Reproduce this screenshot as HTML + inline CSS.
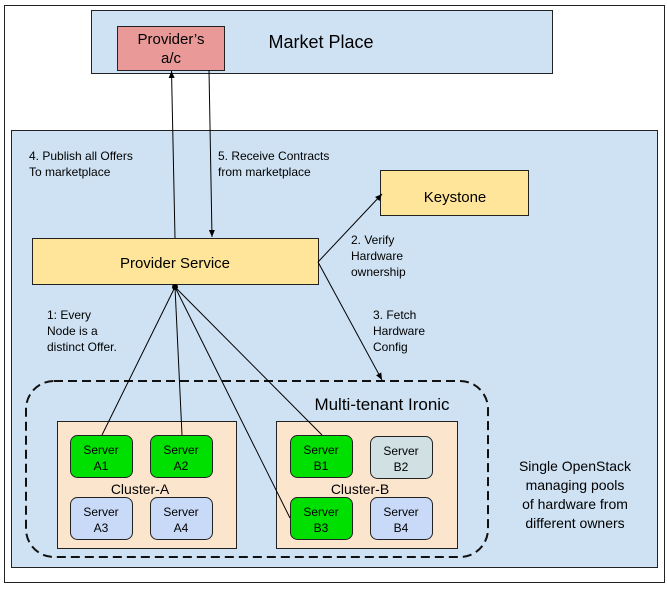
<!DOCTYPE html>
<html><head><style>
body{margin:0;width:667px;height:585px;background:#fff;font-family:"Liberation Sans",sans-serif;}
</style></head><body>
<svg width="667" height="585" xmlns="http://www.w3.org/2000/svg" font-family="Liberation Sans, sans-serif">
<defs><marker id="a" markerWidth="8" markerHeight="8" refX="7" refY="4" orient="auto" markerUnits="userSpaceOnUse"><path d="M0,1 L7,4 L0,7 z" fill="#000"/></marker></defs>
<rect x="4.5" y="5.5" width="660" height="577" fill="#fff" stroke="#222" stroke-width="1"/>
<rect x="91.5" y="10.5" width="461" height="63" fill="#cfe2f3" stroke="#222"/>
<rect x="117.5" y="26.5" width="107" height="44" fill="#ea9999" stroke="#222"/>
<text x="171" y="44" font-size="15" text-anchor="middle">Provider’s</text>
<text x="171" y="63" font-size="15" text-anchor="middle">a/c</text>
<text x="321" y="48" font-size="18" text-anchor="middle">Market Place</text>
<rect x="11.5" y="130.5" width="646" height="437" fill="#cfe2f3" stroke="#222"/>
<text x="29" y="160" font-size="12">4. Publish all Offers</text>
<text x="29" y="176" font-size="12">To marketplace</text>
<text x="218" y="160" font-size="12">5. Receive Contracts</text>
<text x="218" y="176" font-size="12">from marketplace</text>
<rect x="380.5" y="170.5" width="148" height="45" fill="#ffe599" stroke="#222"/>
<text x="455" y="202" font-size="15" text-anchor="middle">Keystone</text>
<rect x="32.5" y="238.5" width="286" height="46" fill="#ffe599" stroke="#222"/>
<text x="175" y="268" font-size="15" text-anchor="middle">Provider Service</text>
<text x="351" y="244" font-size="12">2. Verify</text>
<text x="351" y="260" font-size="12">Hardware</text>
<text x="351" y="276" font-size="12">ownership</text>
<text x="47" y="319" font-size="12">1: Every</text>
<text x="47" y="335" font-size="12">Node is a</text>
<text x="47" y="351" font-size="12">distinct Offer.</text>
<text x="373" y="319" font-size="12">3. Fetch</text>
<text x="373" y="335" font-size="12">Hardware</text>
<text x="373" y="351" font-size="12">Config</text>
<rect x="26" y="381" width="462" height="176" rx="28" fill="none" stroke="#111" stroke-width="2" stroke-dasharray="9,5"/>
<text x="382" y="410" font-size="17" text-anchor="middle">Multi-tenant Ironic</text>
<rect x="57.5" y="421.5" width="179" height="127" fill="#fce5cd" stroke="#222"/>
<rect x="276.5" y="421.5" width="181" height="127" fill="#fce5cd" stroke="#222"/>
<text x="140" y="494" font-size="14" text-anchor="middle">Cluster-A</text>
<text x="360" y="494" font-size="14" text-anchor="middle">Cluster-B</text>
<g font-size="12" text-anchor="middle" stroke="#222">
<rect x="70.5" y="435.5" width="62" height="42" rx="7" fill="#00e000"/>
<rect x="150.5" y="435.5" width="62" height="42" rx="7" fill="#00e000"/>
<rect x="70.5" y="497.5" width="62" height="42" rx="7" fill="#c9daf8"/>
<rect x="150.5" y="497.5" width="62" height="42" rx="7" fill="#c9daf8"/>
<rect x="290.5" y="435.5" width="62" height="42" rx="7" fill="#00e000"/>
<rect x="370.5" y="436.5" width="62" height="42" rx="7" fill="#d0e0e3"/>
<rect x="290.5" y="497.5" width="62" height="42" rx="7" fill="#00e000"/>
<rect x="370.5" y="497.5" width="62" height="42" rx="7" fill="#c9daf8"/>
</g>
<g font-size="12" text-anchor="middle">
<text x="101" y="454">Server</text><text x="101" y="470">A1</text>
<text x="181" y="454">Server</text><text x="181" y="470">A2</text>
<text x="101" y="516">Server</text><text x="101" y="532">A3</text>
<text x="181" y="516">Server</text><text x="181" y="532">A4</text>
<text x="321" y="454">Server</text><text x="321" y="470">B1</text>
<text x="401" y="455">Server</text><text x="401" y="471">B2</text>
<text x="321" y="516">Server</text><text x="321" y="532">B3</text>
<text x="401" y="516">Server</text><text x="401" y="532">B4</text>
</g>
<g font-size="14" text-anchor="middle">
<text x="575" y="471">Single OpenStack</text>
<text x="575" y="490">managing pools</text>
<text x="575" y="509">of hardware from</text>
<text x="575" y="528">different owners</text>
</g>
<g stroke="#000" stroke-width="1" fill="none">
<line x1="175" y1="238" x2="171.5" y2="71" marker-end="url(#a)"/>
<line x1="209" y1="70" x2="212" y2="237" marker-end="url(#a)"/>
<line x1="318" y1="262" x2="382" y2="194" marker-end="url(#a)"/>
<line x1="318" y1="262" x2="382" y2="380" marker-end="url(#a)"/>
<line x1="102" y1="435" x2="175" y2="287"/>
<line x1="182" y1="435" x2="175" y2="287"/>
<line x1="290" y1="518" x2="175" y2="287"/>
<line x1="322" y1="435" x2="175" y2="287"/>
</g>
<circle cx="175" cy="287" r="3" fill="#000"/>
</svg>
</body></html>
